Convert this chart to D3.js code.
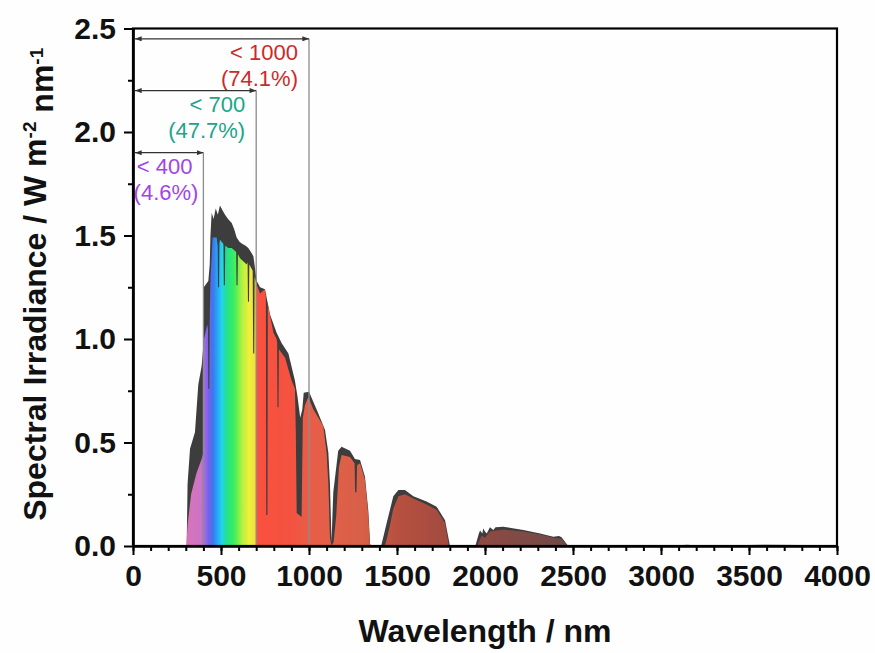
<!DOCTYPE html>
<html>
<head>
<meta charset="utf-8">
<script src="https://cdn.jsdelivr.net/npm/d3@7"></script>
<style>
  html, body { margin: 0; padding: 0; background: #fefefe; }
  svg { display: block; font-family: 'Liberation Sans', Arial, sans-serif; }
</style>
</head>
<body>
<div id="chart"></div>
<script>
// upper (dark) spectrum
const globalNm = [280, 305, 310, 324, 352, 371, 390, 398, 402, 428, 436, 440, 447, 458, 470, 482, 494, 510, 523, 540, 561, 575, 589, 605, 620, 640, 655, 670, 684, 703, 722, 750, 778, 816, 845, 883, 920, 935, 950, 962, 970, 1000, 1053, 1091, 1110, 1119, 1128, 1138, 1166, 1185, 1233, 1261, 1290, 1318, 1337, 1347, 1355, 1410, 1441, 1479, 1508, 1545, 1593, 1668, 1725, 1773, 1801, 1945, 1965, 1972, 1985, 1990, 2000, 2010, 2028, 2047, 2060, 2104, 2218, 2313, 2388, 2420, 2435, 2473, 3000, 3100, 3150, 3200, 3400, 3600, 3800, 3950, 4000];
const globalVal = [0, 0, 0.30, 0.47, 0.55, 0.78, 0.87, 0.95, 1.25, 1.28, 1.36, 1.50, 1.61, 1.58, 1.63, 1.60, 1.645, 1.62, 1.60, 1.58, 1.56, 1.53, 1.49, 1.47, 1.46, 1.45, 1.44, 1.42, 1.40, 1.28, 1.25, 1.24, 1.12, 1.03, 0.98, 0.93, 0.80, 0.72, 0.62, 0.66, 0.74, 0.745, 0.64, 0.56, 0.45, 0.30, 0.02, 0.26, 0.46, 0.48, 0.46, 0.42, 0.415, 0.335, 0.17, 0.01, 0, 0, 0.11, 0.24, 0.27, 0.27, 0.24, 0.215, 0.19, 0.125, 0, 0, 0.06, 0.075, 0.06, 0.085, 0.07, 0.06, 0.09, 0.077, 0.09, 0.093, 0.077, 0.06, 0.045, 0.048, 0.042, 0, 0, 0.004, 0.006, 0.003, 0.004, 0.006, 0.005, 0.004, 0];

// lower (coloured) spectrum with its absorption dips
const directNm = [280, 303, 310, 330, 360, 390, 400, 404, 422, 426, 428, 434, 436, 440, 452, 475, 481, 483, 489, 491, 494, 513, 514, 516, 522, 524, 542, 561, 586, 588, 594, 596, 608, 646, 651, 653, 659, 661, 680, 683, 689, 691, 700, 722, 750, 755, 757, 764, 766, 770, 798, 816, 819, 821, 827, 829, 864, 901, 920, 925, 930, 958, 965, 977, 996, 1025, 1081, 1100, 1110, 1119, 1128, 1140, 1155, 1170, 1185, 1233, 1259, 1262, 1270, 1273, 1290, 1318, 1337, 1347, 1430, 1441, 1460, 1479, 1508, 1545, 1593, 1668, 1725, 1773, 1795, 1955, 1981, 2000, 2028, 2104, 2218, 2313, 2388, 2435, 2470, 4000];
const directVal = [0, 0, 0.10, 0.25, 0.35, 0.42, 0.45, 1.00, 1.07, 1.05, 0.76, 0.76, 1.10, 1.28, 1.49, 1.49, 1.45, 1.25, 1.25, 1.46, 1.48, 1.46, 1.45, 1.26, 1.26, 1.45, 1.44, 1.44, 1.42, 1.26, 1.26, 1.41, 1.39, 1.36, 1.37, 1.18, 1.18, 1.36, 1.33, 0.93, 0.93, 1.30, 1.27, 1.22, 1.24, 1.20, 0.15, 0.15, 1.17, 1.15, 1.03, 1.00, 0.98, 0.67, 0.67, 0.95, 0.91, 0.80, 0.76, 0.55, 0.16, 0.14, 0.62, 0.68, 0.72, 0.66, 0.58, 0.45, 0.30, 0.04, 0, 0.02, 0.15, 0.38, 0.44, 0.43, 0.40, 0.26, 0.26, 0.39, 0.40, 0.32, 0.15, 0, 0, 0.03, 0.10, 0.18, 0.24, 0.25, 0.23, 0.20, 0.175, 0.11, 0, 0, 0.05, 0.04, 0.07, 0.08, 0.07, 0.055, 0.04, 0.035, 0, 0];

// colour stops of the rainbow fill
const stopNm = [300, 385, 405, 430, 455, 480, 505, 530, 575, 620, 660, 699, 701, 900, 1000, 1300, 1500, 1800, 2000, 2500];
const stopColor = ['#d874b8', '#cc74c4', '#a46ce0', '#7462ea', '#3a78f0', '#28a8f4', '#22d4ee', '#22e090', '#3cee5c', '#b4f040', '#f0f03c', '#f4dc38', '#fa5040', '#f45240', '#e85e48', '#d86048', '#b85040', '#a04a40', '#8c4a42', '#6e4a48'];

// cut-off brackets
const cutNm = [1000, 700, 400];
const cutLevel = [2.45, 2.20, 1.90];
const cutLabel = ['< 1000', '< 700', '< 400'];
const cutShare = ['(74.1%)', '(47.7%)', '(4.6%)'];
const cutColor = ['#cc2a2a', '#1aa58a', '#a344e6'];

const xTicks = [0, 500, 1000, 1500, 2000, 2500, 3000, 3500, 4000];
const xMinor = d3.range(0, 4001, 100);
const yTicks = [0, 0.5, 1.0, 1.5, 2.0, 2.5];
const yMinor = [0.25, 0.75, 1.25, 1.75, 2.25];

const width = 875;
const height = 653;
const margin = { top: 28.5, right: 38, bottom: 107, left: 133 };
const innerWidth = width - margin.left - margin.right;
const innerHeight = height - margin.top - margin.bottom;

const x = d3.scaleLinear().domain([0, 4000]).range([0, innerWidth]);
const y = d3.scaleLinear().domain([0, 2.5]).range([innerHeight, 0]);

const svg = d3.select('#chart')
  .append('svg')
  .attr('width', width)
  .attr('height', height);

const defs = svg.append('defs');

const grad = defs.append('linearGradient')
  .attr('id', 'rainbow')
  .attr('gradientUnits', 'userSpaceOnUse')
  .attr('x1', x(stopNm[0]))
  .attr('x2', x(stopNm[stopNm.length - 1]))
  .attr('y1', 0)
  .attr('y2', 0);

const span = stopNm[stopNm.length - 1] - stopNm[0];
grad.selectAll('stop')
  .data(stopNm)
  .join('stop')
  .attr('offset', (d) => (d - stopNm[0]) / span)
  .attr('stop-color', (d, i) => stopColor[i]);

defs.append('marker')
  .attr('id', 'head')
  .attr('viewBox', '0 0 8 6')
  .attr('refX', 8)
  .attr('refY', 3)
  .attr('markerWidth', 7)
  .attr('markerHeight', 5)
  .attr('markerUnits', 'userSpaceOnUse')
  .attr('orient', 'auto-start-reverse')
  .append('path')
  .attr('d', 'M0,0L8,3L0,6Z')
  .attr('fill', '#333');

const plot = svg.append('g')
  .attr('transform', `translate(${margin.left},${margin.top})`);

const area = d3.area()
  .x((d) => x(d[0]))
  .y0(y(0))
  .y1((d) => y(d[1]));

plot.append('path')
  .datum(globalNm.map((nm, i) => [nm, globalVal[i]]))
  .attr('d', area)
  .attr('fill', '#3d3d3d');

plot.append('path')
  .datum(directNm.map((nm, i) => [nm, directVal[i]]))
  .attr('d', area)
  .attr('fill', 'url(#rainbow)');

// brackets
cutNm.forEach((nm, i) => {
  plot.append('line')
    .attr('x1', x(nm))
    .attr('x2', x(nm))
    .attr('y1', y(cutLevel[i]))
    .attr('y2', y(0))
    .attr('stroke', '#8c8c8c')
    .attr('stroke-width', 1.3);

  plot.append('line')
    .attr('x1', x(0) + 2)
    .attr('x2', x(nm))
    .attr('y1', y(cutLevel[i]))
    .attr('y2', y(cutLevel[i]))
    .attr('stroke', '#333')
    .attr('stroke-width', 1.2)
    .attr('marker-start', 'url(#head)')
    .attr('marker-end', 'url(#head)');

  plot.append('text')
    .attr('x', x(nm) - 11)
    .attr('y', y(cutLevel[i]) + 21)
    .attr('text-anchor', 'end')
    .attr('font-size', 22)
    .attr('fill', cutColor[i])
    .text(cutLabel[i]);

  plot.append('text')
    .attr('x', x(nm) - (i === 2 ? 5 : 11))
    .attr('y', y(cutLevel[i]) + 47)
    .attr('text-anchor', 'end')
    .attr('font-size', 22)
    .attr('fill', cutColor[i])
    .text(cutShare[i]);
});

// axes
const xMinorAxis = plot.append('g')
  .attr('transform', `translate(0,${innerHeight})`)
  .call(d3.axisBottom(x).tickValues(xMinor).tickSize(5).tickSizeOuter(0));

const xAxis = plot.append('g')
  .attr('transform', `translate(0,${innerHeight})`)
  .call(d3.axisBottom(x).tickValues(xTicks).tickSize(9).tickSizeOuter(0).tickPadding(10).tickFormat(d3.format('d')));

const yMinorAxis = plot.append('g')
  .call(d3.axisLeft(y).tickValues(yMinor).tickSize(5).tickSizeOuter(0));

const yAxis = plot.append('g')
  .call(d3.axisLeft(y).tickValues(yTicks).tickSize(9).tickSizeOuter(0).tickPadding(8).tickFormat(d3.format('.1f')));

xMinorAxis.selectAll('text').remove();
yMinorAxis.selectAll('text').remove();

[xMinorAxis, xAxis, yMinorAxis, yAxis].forEach((g) => {
  g.select('.domain').attr('stroke-width', 2.2).attr('stroke', '#000');
  g.selectAll('.tick line').attr('stroke-width', 2).attr('stroke', '#000');
  g.selectAll('text')
    .attr('font-size', 30)
    .attr('font-weight', 700)
    .attr('font-family', "'Liberation Sans', Arial, sans-serif")
    .attr('fill', '#111');
});

plot.append('rect')
  .attr('x', 0)
  .attr('y', 0)
  .attr('width', innerWidth)
  .attr('height', innerHeight)
  .attr('fill', 'none')
  .attr('stroke', '#000')
  .attr('stroke-width', 2.2);

plot.append('text')
  .attr('x', innerWidth / 2)
  .attr('y', innerHeight + 96)
  .attr('text-anchor', 'middle')
  .attr('font-size', 32)
  .attr('font-weight', 700)
  .attr('fill', '#111')
  .text('Wavelength / nm');

const yTitle = plot.append('text')
  .attr('transform', `translate(${-87},${innerHeight / 2 - 3}) rotate(-90)`)
  .attr('text-anchor', 'middle')
  .attr('font-size', 32)
  .attr('font-weight', 700)
  .attr('fill', '#111');

yTitle.append('tspan').text('Spectral Irradiance / W m');
yTitle.append('tspan').attr('dy', '-0.55em').attr('font-size', 19).text('-2');
yTitle.append('tspan').attr('dy', '0.55em').text(' nm');
yTitle.append('tspan').attr('dy', '-0.55em').attr('font-size', 19).text('-1');
</script>
</body>
</html>
